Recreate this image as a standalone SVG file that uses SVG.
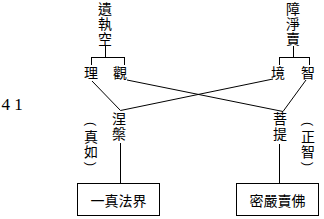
<svg xmlns="http://www.w3.org/2000/svg" width="324" height="219" viewBox="0 0 324 219">
<style>
.t{font-family:"Noto Sans CJK TC","Noto Sans CJK JP",sans-serif;font-size:14px;fill:#000;text-anchor:middle;dominant-baseline:central}
.v{font-family:"Noto Sans CJK TC","Noto Sans CJK JP",sans-serif;font-size:14px;fill:#000;writing-mode:vertical-rl;letter-spacing:1px}
.p{font-family:"Liberation Sans",sans-serif;font-size:12px;fill:#000;text-anchor:middle;dominant-baseline:central}
.l{stroke:#000;stroke-width:1;fill:none}
.b{stroke:#000;stroke-width:1;fill:#fff}
.n{font-family:"Liberation Serif",serif;font-size:17px;fill:#000}
</style>
<rect width="324" height="219" fill="#fff"/>
<g id="connectors">
<path class="l" d="M105.5,46V57.5M91.5,57.5H124.5M91.5,57V65M124.5,57V65"/>
<path class="l" d="M293.5,46V57.5M279.5,57.5H309.5M279.5,57V65M309.5,57V65"/>
<path class="l" d="M92,81L120.5,110.5"/>
<path class="l" d="M127,80L283,111.5"/>
<path class="l" d="M273,79L120.5,110.5"/>
<path class="l" d="M306,80L283,111.5"/>
<path class="l" d="M120.5,143V183"/>
<path class="l" d="M279.5,144V183"/>
</g>
<g id="n-yizhikong"><text class="v" x="105" y="2">遺執空</text></g>
<g id="n-zhangjingjue"><text class="v" x="293" y="2">障淨賣</text></g>
<g id="n-li"><text class="t" x="91" y="72">理</text></g>
<g id="n-guan"><text class="t" x="120" y="72">觀</text></g>
<g id="n-jing"><text class="t" x="278" y="72">境</text></g>
<g id="n-zhi"><text class="t" x="308" y="72">智</text></g>
<g id="n-niepan"><text class="v" x="119" y="112">涅槃</text></g>
<g id="n-puti"><text class="v" x="280" y="112">菩提</text></g>
<g id="n-zhenru">
<text class="p" x="91" y="124" transform="rotate(90 91 124)">(</text>
<text class="v" x="91" y="130">真如</text>
<text class="p" x="91" y="164" transform="rotate(90 91 164)">)</text>
</g>
<g id="n-zhengzhi">
<text class="p" x="308" y="124" transform="rotate(90 308 124)">(</text>
<text class="v" x="308" y="130">正智</text>
<text class="p" x="308" y="164" transform="rotate(90 308 164)">)</text>
</g>
<g id="n-box1">
<rect class="b" x="77.5" y="183.5" width="82" height="32"/>
<text class="t" x="118.5" y="199.5">一真法界</text>
</g>
<g id="n-box2">
<rect class="b" x="236.5" y="183.5" width="82" height="32"/>
<text class="t" x="277.5" y="199.5">密嚴賣佛</text>
</g>
<g id="n-num"><text class="n" x="1.5" y="110">4 1</text></g>
</svg>
